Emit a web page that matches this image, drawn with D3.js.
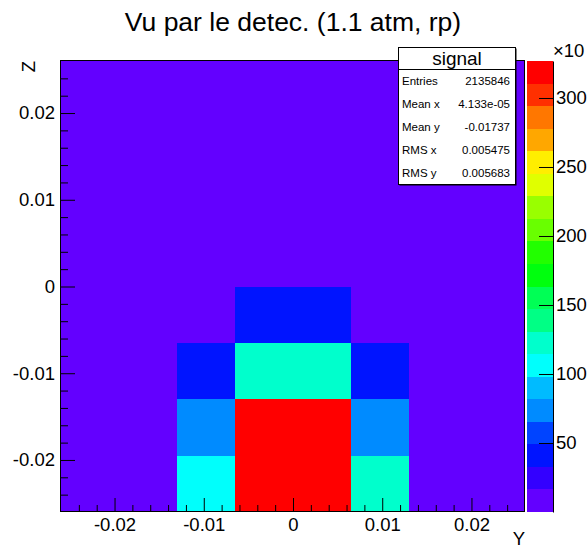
<!DOCTYPE html>
<html>
<head>
<meta charset="utf-8">
<script src="https://cdn.jsdelivr.net/npm/d3@7"></script>
<style>
  html, body { margin: 0; padding: 0; background: #fff; }
  svg { display: block; }
  text { font-family: "Liberation Sans", Arial, Helvetica, sans-serif; fill: #000; }
</style>
</head>
<body>
<svg id="chart" width="587" height="549"></svg>
<script>
// ---------------- data ----------------
const title = "Vu par le detec. (1.1 atm, rp)";
const xTitle = "Y";
const yTitle = "Z";
// bin edges (8 x 8 bins)
const xEdges = [-0.026, -0.0195, -0.013, -0.0065, 0, 0.0065, 0.013, 0.0195, 0.026];
const yEdges = [-0.026, -0.0195, -0.013, -0.0065, 0, 0.0065, 0.013, 0.0195, 0.026];
// bin contents, rows from bottom (lowest Z) to top
const row0 = [1200, 1500, 106000, 326800, 318000, 121000, 1400, 1100];
const row1 = [1300, 1600, 75000, 316000, 322000, 77000, 1700, 1200];
const row2 = [1100, 1900, 42000, 128000, 125000, 40000, 2000, 1000];
const row3 = [900, 1400, 3500, 38000, 41000, 3200, 1300, 800];
const row4 = [700, 900, 1200, 1500, 1400, 1100, 900, 600];
const row5 = [600, 700, 900, 1000, 1100, 800, 700, 500];
const row6 = [500, 600, 700, 800, 800, 700, 600, 500];
const row7 = [400, 500, 600, 600, 700, 600, 500, 400];
const rows = [row0, row1, row2, row3, row4, row5, row6, row7];
const xTicksMajor = [-0.02, -0.01, 0, 0.01, 0.02];
const yTicksMajor = [-0.02, -0.01, 0, 0.01, 0.02];
const minorTicks = [-0.024, -0.022, -0.018, -0.016, -0.014, -0.012, -0.008, -0.006, -0.004, -0.002,
                    0.002, 0.004, 0.006, 0.008, 0.012, 0.014, 0.016, 0.018, 0.022, 0.024];
const zTicks = [50000, 100000, 150000, 200000, 250000, 300000];
const statsTitle = "signal";
const statsLabels = ["Entries", "Mean x", "Mean y", "RMS x", "RMS y"];
const statsValues = ["2135846", "4.133e-05", "-0.01737", "0.005475", "0.005683"];
const nContours = 20;

// ---------------- layout ----------------
const L = 61, R = 525, T = 61, B = 512;
const svg = d3.select("#chart");
const fontSize = 18.5;

const x = d3.scaleLinear().domain([xEdges[0], xEdges[xEdges.length-1]]).range([L, R]);
const y = d3.scaleLinear().domain([yEdges[0], yEdges[yEdges.length-1]]).range([B, T]);
const zmax = d3.max(rows.flat());
const z = d3.scaleLinear().domain([0, zmax]).range([B, T]);

// ROOT "pretty" palette (50 colours, hue 280 -> 0)
function paletteColor(level) {
  const nColors = 50;
  let tc = Math.floor((level + 0.99) * nColors / nContours);
  if (tc > nColors - 1) tc = nColors - 1;
  const hue = 280 - (tc + 1) * (280 / nColors);
  return d3.hsl(hue, 1, 0.5).formatHex();
}
function levelOf(v) {
  let c = Math.floor(0.01 + v * nContours / zmax);
  if (c > nContours - 1) c = nContours - 1;
  if (c < 0) c = 0;
  return c;
}

// ---------------- cells ----------------
const cells = [];
rows.forEach((r, j) => r.forEach((v, i) => cells.push({i, j, v})));
svg.append("g").attr("shape-rendering", "crispEdges").selectAll("rect").data(cells).join("rect")
  .attr("x", d => x(xEdges[d.i]))
  .attr("y", d => y(yEdges[d.j + 1]))
  .attr("width", d => x(xEdges[d.i + 1]) - x(xEdges[d.i]))
  .attr("height", d => y(yEdges[d.j]) - y(yEdges[d.j + 1]))
  .attr("fill", d => paletteColor(levelOf(d.v)));

// ---------------- axes ----------------
function fmt(v) { return Math.abs(v) < 1e-12 ? "0" : v.toFixed(2); }

const xMinor = d3.axisBottom(x).tickValues(minorTicks).tickSize(-7).tickSizeOuter(0).tickFormat("");
const xMajor = d3.axisBottom(x).tickValues(xTicksMajor).tickSize(-14).tickSizeOuter(0).tickPadding(6).tickFormat(fmt);
const yMinor = d3.axisLeft(y).tickValues(minorTicks).tickSize(-7).tickSizeOuter(0).tickFormat("");
const yMajor = d3.axisLeft(y).tickValues(yTicksMajor).tickSize(-14).tickSizeOuter(0).tickPadding(6).tickFormat(fmt);

function style(g) {
  g.select(".domain").remove();
  g.selectAll(".tick line").attr("stroke", "#000").attr("stroke-width", 1);
  g.selectAll(".tick text").attr("font-size", fontSize).attr("font-family", "Liberation Sans, Arial, sans-serif").attr("fill", "#000");
}
svg.append("g").attr("transform", `translate(0,${B})`).call(xMinor).call(style);
svg.append("g").attr("transform", `translate(0,${B})`).call(xMajor).call(style);
svg.append("g").attr("transform", `translate(${L},0)`).call(yMinor).call(style);
svg.append("g").attr("transform", `translate(${L},0)`).call(yMajor).call(style);

// frame
svg.append("rect").attr("x", L - 0.5).attr("y", T - 0.5).attr("width", R - L).attr("height", B - T)
  .attr("fill", "none").attr("stroke", "#000").attr("stroke-width", 1);

// axis titles
svg.append("text").attr("x", R).attr("y", 545).attr("text-anchor", "end")
  .attr("font-size", fontSize).text(xTitle);
svg.append("text").attr("transform", `translate(35,${T}) rotate(-90)`).attr("text-anchor", "end")
  .attr("font-size", fontSize).text(yTitle);

// title
svg.append("text").attr("x", 293).attr("y", 31).attr("text-anchor", "middle")
  .attr("font-size", 26.5).text(title);

// ---------------- colour bar ----------------
const CB0 = 527, CB1 = 553;
const bands = d3.range(nContours);
svg.append("g").attr("shape-rendering", "crispEdges").selectAll("rect").data(bands).join("rect")
  .attr("x", CB0)
  .attr("y", c => z((c + 1) * zmax / nContours))
  .attr("width", CB1 - CB0)
  .attr("height", c => z(c * zmax / nContours) - z((c + 1) * zmax / nContours))
  .attr("fill", c => paletteColor(c));

const zAxis = d3.axisRight(z).tickValues(zTicks).tickSize(-14).tickSizeOuter(0).tickPadding(3)
  .tickFormat(v => String(v / 1000));
const zg = svg.append("g").attr("transform", `translate(${CB1},0)`).call(zAxis);
zg.select(".domain").attr("stroke", "#000");
zg.selectAll(".tick line").attr("stroke", "#000");
zg.selectAll(".tick text").attr("font-size", fontSize).attr("fill", "#000");
svg.append("text").attr("x", 553).attr("y", 57).attr("font-size", fontSize).text("×10");

// ---------------- stats box ----------------
const SX0 = 398, SX1 = 515, SY0 = 47, SY1 = 184, SYT = 69;
svg.append("rect").attr("x", SX0 + 1.5).attr("y", SY0 + 1.5).attr("width", SX1 - SX0).attr("height", SY1 - SY0).attr("fill", "#000");
svg.append("rect").attr("x", SX0 + 0.5).attr("y", SY0 + 0.5).attr("width", SX1 - SX0).attr("height", SY1 - SY0)
  .attr("fill", "#fff").attr("stroke", "#000").attr("stroke-width", 1);
svg.append("line").attr("x1", SX0).attr("x2", SX1 + 0.5).attr("y1", SYT + 0.5).attr("y2", SYT + 0.5).attr("stroke", "#000");
svg.append("text").attr("x", (SX0 + SX1) / 2 + 0.5).attr("y", SYT - 4).attr("text-anchor", "middle")
  .attr("font-size", 19).text(statsTitle);
const rowH = (SY1 - SYT) / statsLabels.length;
statsLabels.forEach((lab, k) => {
  const cy = SYT + rowH * (k + 0.5) + 4;
  svg.append("text").attr("x", SX0 + 4).attr("y", cy).attr("font-size", 11.5).text(lab);
  svg.append("text").attr("x", SX1 - 5).attr("y", cy).attr("text-anchor", "end").attr("font-size", 11.5).text(statsValues[k]);
});
</script>
</body>
</html>
